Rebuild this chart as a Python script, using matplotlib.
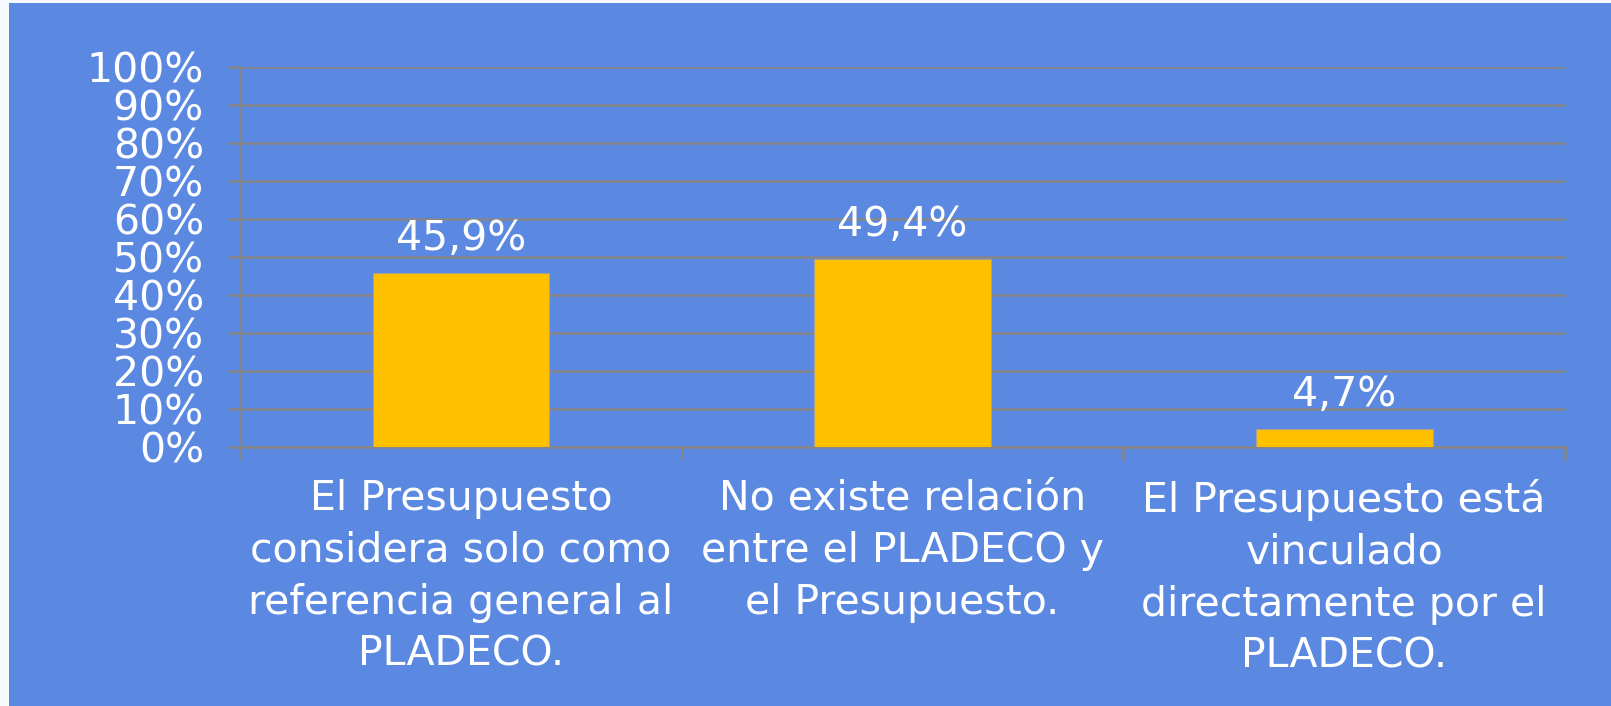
import numpy as np
import matplotlib
matplotlib.use("Agg")
import matplotlib.pyplot as plt
from matplotlib.patches import Rectangle

# Data
categories = [
    "El Presupuesto\nconsidera solo como\nreferencia general al\nPLADECO.",
    "No existe relación\nentre el PLADECO y\nel Presupuesto.",
    "El Presupuesto está\nvinculado\ndirectamente por el\nPLADECO.",
]
values = [45.9, 49.4, 4.7]
value_labels = ["45,9%", "49,4%", "4,7%"]
y_ticks = [0, 10, 20, 30, 40, 50, 60, 70, 80, 90, 100]

bg = "#5B89E1"
grid_col = "#878787"
bar_col = "#FFC000"

plt.rcParams["font.family"] = ["DejaVu Sans"]

fig = plt.figure(figsize=(16.11, 7.06), dpi=100, facecolor="#F6F9FD")
# blue panel (thin white strip left and top)
fig.patches.append(Rectangle((9 / 1611, 0), 1, 1 - 3 / 706, transform=fig.transFigure,
                             facecolor=bg, edgecolor="none", zorder=-1))

ax = fig.add_axes([240 / 1611, 1 - 447 / 706, 1325 / 1611, 380 / 706])
ax.set_facecolor("none")

x = np.arange(len(categories))
ax.bar(x, values, width=0.4, color=bar_col, edgecolor="#A8A090", linewidth=0.8, zorder=3)

for xi, v, lab in zip(x, values, value_labels):
    ax.annotate(lab, (xi, v), xytext=(0, 10), textcoords="offset points",
                ha="center", va="bottom", color="white", fontsize=29.5, zorder=4)

ax.set_xlim(-0.5, 2.5)
ax.set_ylim(0, 100)

ax.set_yticks(y_ticks)
ax.set_yticklabels([f"{t}%" for t in y_ticks])
ax.yaxis.grid(True, color=grid_col, linewidth=1.8, zorder=0)
ax.set_axisbelow(True)

# category boundaries as major ticks, labels on minor ticks
ax.set_xticks([-0.5, 0.5, 1.5, 2.5])
ax.set_xticklabels([])
ax.set_xticks(x, minor=True)
ax.set_xticklabels(categories, minor=True, fontsize=29.5, color="white", linespacing=1.38)
ax.tick_params(axis="x", which="minor", length=0, pad=23)
ax.tick_params(axis="x", which="major", length=9.5, width=1.8, color=grid_col, direction="out")
ax.tick_params(axis="y", length=9, width=1.8, color=grid_col, direction="out",
               labelsize=29.5, labelcolor="white", pad=17)

for side in ["top", "right"]:
    ax.spines[side].set_visible(False)
for side in ["left", "bottom"]:
    ax.spines[side].set_color(grid_col)
    ax.spines[side].set_linewidth(1.8)

fig.savefig("out.png", dpi=100, facecolor=fig.get_facecolor())
